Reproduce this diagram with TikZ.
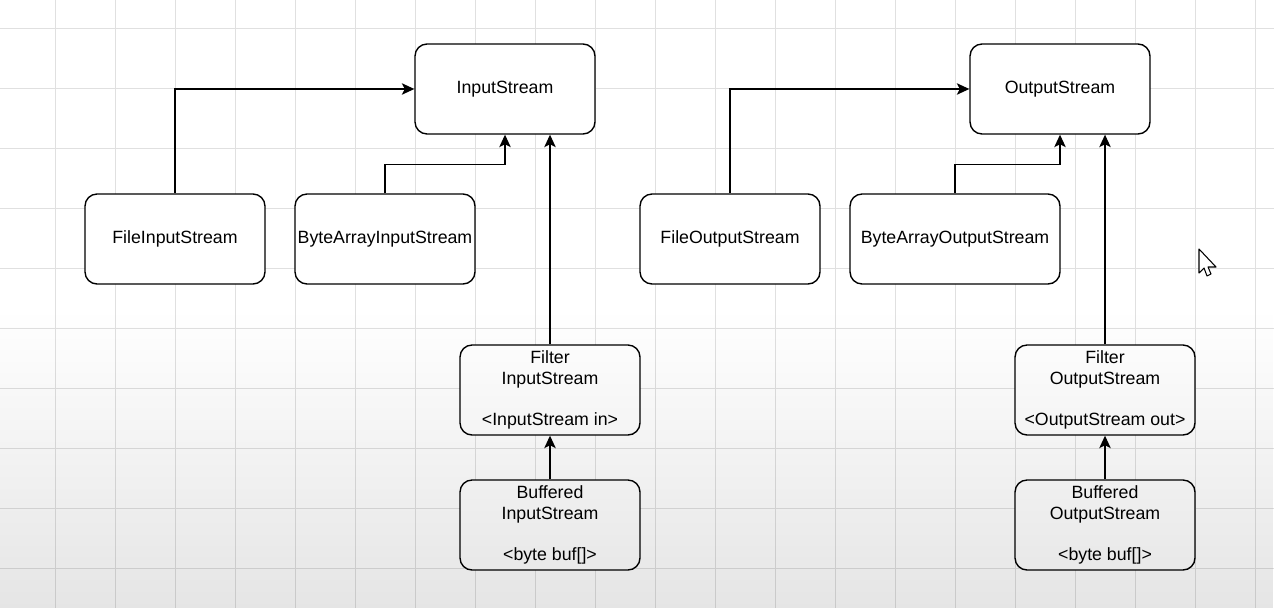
\documentclass[tikz,border=0pt]{standalone}
\usepackage{fontspec}
\setmainfont{Liberation Sans}
\usetikzlibrary{arrows.meta,fadings}
\tikzfading[name=fade bottom, top color=transparent!100, bottom color=transparent!0]
\begin{document}
\begin{tikzpicture}[x=0.02cm,y=-0.02cm,
	every node/.style={font=\fontsize{10.1}{11.9}\selectfont},
	box/.style={draw,rounded corners=0.24cm,line width=0.8pt,fill=white,minimum width=3.6cm,minimum height=1.8cm,inner sep=0pt,align=center},
	wide/.style={box,minimum width=4.2cm},
	arr/.style={-{Stealth[length=0.25cm,width=0.23cm,inset=0.06cm]},line width=0.8pt},
	gridline/.style={black!12,line width=0.5pt}]
	\useasboundingbox (0,0) rectangle (1274,608);
	%Background grid
		\fill[white] (0,0) rectangle (1274,608);
		\foreach \x in {55,115,...,1255} \draw[gridline] (\x,0) -- (\x,608);
		\foreach \y in {28,88,...,568} \draw[gridline] (0,\y) -- (1274,\y);
	%Input side
		%InputStream
		\node[box] (in) at (505,89) {InputStream};
		%FileInputStream
		\node[box] (fin) at (175,239) {FileInputStream};
		%ByteArrayInputStream
		\node[box] (bain) at (385,239) {ByteArrayInputStream};
		%Filter
		\node[box] (filin) at (550,390) {Filter\\InputStream\\[11.9pt]<InputStream in>};
		%Buffered
		\node[box] (bufin) at (550,525) {Buffered\\InputStream\\[11.9pt]<byte buf[]>};
		%Arrows to InputStream
		\draw[arr] (fin.north) |- (in.west);
		\draw[arr] (bain.north) -- ++(0,-29) -| (in.south);
		\draw[arr] (filin.north) -- (filin.north |- in.south);
		\draw[arr] (bufin.north) -- (filin.south);
	%Output side
		%OutputStream
		\node[box] (out) at (1060,89) {OutputStream};
		%FileOutputStream
		\node[box] (fout) at (730,239) {FileOutputStream};
		%ByteArrayOutputStream
		\node[wide] (baout) at (955,239) {ByteArrayOutputStream};
		%Filter
		\node[box] (filout) at (1105,390) {Filter\\OutputStream\\[11.9pt]<OutputStream out>};
		%Buffered
		\node[box] (bufout) at (1105,525) {Buffered\\OutputStream\\[11.9pt]<byte buf[]>};
		%Arrows to OutputStream
		\draw[arr] (fout.north) |- (out.west);
		\draw[arr] (baout.north) -- ++(0,-29) -| (out.south);
		\draw[arr] (filout.north) -- (filout.north |- out.south);
		\draw[arr] (bufout.north) -- (filout.south);
	%Mouse pointer
		\draw[fill=white,line width=0.6pt,line join=round] (1199,249) -- (1199,273) -- (1204,268) -- (1207,276) -- (1211,274) -- (1208,267) -- (1216,267) -- cycle;
	%Shadow at the bottom
		\fill[black,opacity=0.1,path fading=fade bottom] (0,310) rectangle (1274,608);
\end{tikzpicture}
\end{document}
